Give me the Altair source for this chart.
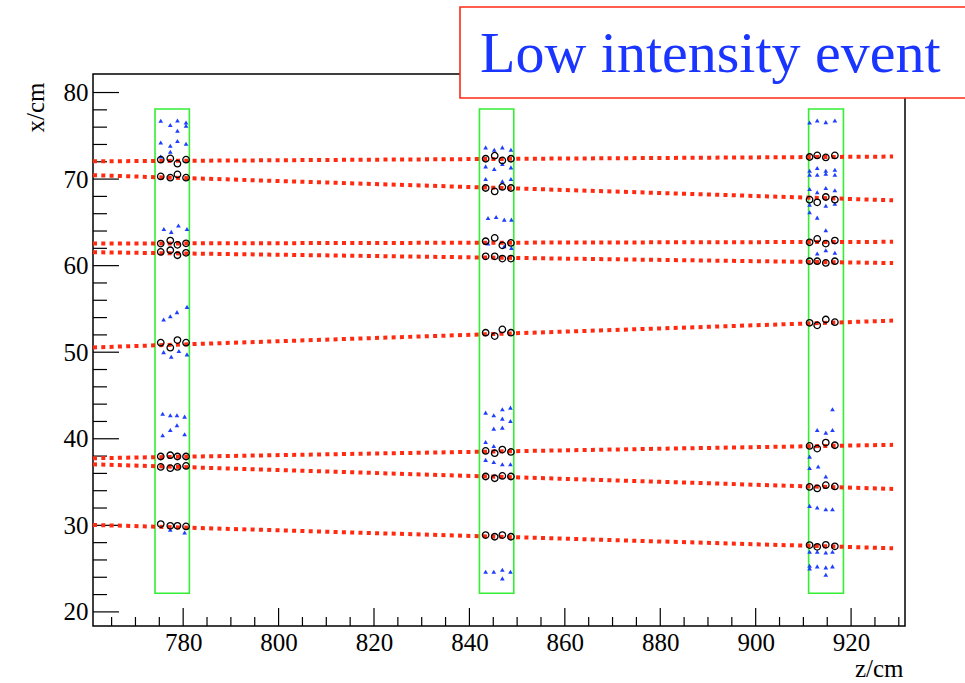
import altair as alt
import pandas as pd

# ---------------- data ----------------
z_domain = [761.1, 931.3]
x_domain = [18.37, 82.14]

z_major = [780, 800, 820, 840, 860, 880, 900, 920]
z_minor = [765, 770, 775, 785, 790, 795, 805, 810, 815, 825, 830, 835, 845, 850,
           855, 865, 870, 875, 885, 890, 895, 905, 910, 915, 925, 930]
x_major = [20, 30, 40, 50, 60, 70, 80]
x_minor = [22, 24, 26, 28, 32, 34, 36, 38, 42, 44, 46, 48, 52, 54, 56, 58,
           62, 64, 66, 68, 72, 74, 76, 78]

# detector stations (green boxes)
box_z0 = [774.1, 842.1, 911.1]
box_z1 = [781.3, 849.3, 918.4]
box_x0 = [22.15, 22.15, 22.15]
box_x1 = [78.1, 78.1, 78.1]

# reconstructed tracks (red dotted lines)
track_z0 = 761.1
track_z1 = 928.8
track_x0 = [72.05, 70.45, 62.55, 61.55, 50.55, 37.75, 37.05, 30.05]
track_x1 = [72.60, 67.55, 62.75, 60.30, 53.65, 39.30, 34.20, 27.35]

# hit layers (z of the four planes in each station)
layers_1 = [775.3, 777.3, 778.8, 780.6]
layers_2 = [843.4, 845.3, 846.9, 848.7]
layers_3 = [911.3, 912.9, 914.7, 916.6]

# associated hits (open circles), one row per track, one column per plane
hits_1 = [[72.24, 72.39, 71.78, 72.24], [70.31, 70.16, 70.54, 70.16],
          [62.55, 62.90, 62.40, 62.58], [61.59, 61.78, 61.20, 61.48],
          [51.10, 50.52, 51.40, 51.10], [37.95, 38.10, 37.95, 37.95],
          [36.75, 36.60, 36.75, 36.86], [30.14, 29.94, 29.94, 29.87]]
hits_2 = [[72.35, 72.70, 72.16, 72.35], [68.97, 68.58, 69.09, 68.97],
          [62.82, 63.20, 62.35, 62.63], [61.08, 61.08, 60.82, 60.82],
          [52.25, 51.86, 52.63, 52.25], [38.60, 38.33, 38.75, 38.48],
          [35.64, 35.44, 35.71, 35.64], [28.87, 28.68, 28.87, 28.68]]
hits_3 = [[72.55, 72.73, 72.50, 72.73], [67.62, 67.31, 67.93, 67.62],
          [62.70, 63.09, 62.55, 62.90], [60.51, 60.51, 60.32, 60.51],
          [53.40, 53.10, 53.78, 53.47], [39.17, 38.87, 39.56, 39.25],
          [34.44, 34.26, 34.64, 34.49], [27.72, 27.52, 27.75, 27.57]]

# unassociated hits (blue triangles)
noise_z = [775.3, 777.3, 778.8, 778.8, 780.6, 780.6,
           775.3, 777.3, 778.8, 780.6, 777.3, 775.3,
           775.95, 777.5, 779.0, 780.8,
           775.9, 777.3, 778.7, 780.8,
           775.9, 777.5, 779.1, 780.8,
           775.7, 777.3, 778.7, 780.3,
           775.7, 777.3, 778.7, 780.3,
           777.3, 780.3,
           843.4, 845.2, 846.9, 848.7,
           843.4, 845.2, 846.9, 848.7,
           843.4, 846.9, 848.7,
           843.9, 845.6, 847.3, 848.8,
           843.9, 847.3, 848.8,
           843.4, 845.1, 846.9, 848.6, 846.9, 848.6, 845.1, 846.9,
           843.4, 845.1,
           843.4, 845.1, 846.9, 848.6,
           843.4, 845.1, 846.9, 848.6, 846.9,
           911.3, 912.9, 914.7, 916.6,
           911.3, 912.9, 914.7, 916.6,
           911.3, 912.9, 914.7, 916.6,
           911.3, 912.9, 914.7, 916.6,
           914.7, 916.6, 911.3, 911.3, 912.9,
           914.7, 914.7, 912.9, 916.6,
           916.1, 912.9, 914.7, 916.1,
           911.3, 911.3, 913.1, 914.7,
           911.3, 912.9, 914.7, 916.1,
           911.3, 912.9, 914.7, 916.1,
           911.3, 911.3, 912.9, 914.7, 916.1, 914.7]
noise_x = [76.74, 76.24, 76.77, 75.58, 76.54, 76.16,
           74.23, 73.85, 74.39, 74.08, 73.16, 72.62,
           64.24, 63.90, 64.63, 64.24,
           53.78, 54.16, 54.63, 55.24,
           50.01, 49.48, 50.13, 49.75,
           42.90, 42.71, 42.71, 42.56,
           40.40, 41.02, 41.56, 40.52,
           29.48, 29.18,
           73.66, 73.39, 73.66, 73.39,
           71.47, 71.16, 71.74, 71.35,
           70.00, 69.74, 70.00,
           65.51, 65.63, 65.32, 65.32,
           62.55, 62.24, 62.05,
           43.02, 42.71, 43.40, 43.60, 42.33, 42.05, 41.17, 41.29,
           39.63, 39.17,
           37.56, 37.32, 37.06, 37.06,
           24.64, 24.64, 24.87, 24.64, 23.87,
           76.54, 76.77, 76.58, 76.77,
           70.97, 71.28, 70.97, 71.08,
           70.51, 70.51, 70.62, 70.51,
           68.86, 68.47, 68.97, 68.70,
           66.93, 67.16, 67.05, 66.16, 65.55,
           64.09, 61.78, 61.40, 61.48,
           43.40, 41.02, 40.71, 41.02,
           37.94, 36.63, 36.79, 35.64,
           32.25, 32.06, 31.86, 31.86,
           26.94, 26.94, 26.87, 26.94,
           25.33, 25.03, 25.26, 25.14, 25.26, 24.29]

label_text = "Low intensity event"
z_title = "z/cm"
x_title = "x/cm"

# ---------------- tables built from the lists ----------------
boxes = pd.DataFrame({"z": box_z0, "z1": box_z1, "x": box_x0, "x1": box_x1})
tracks = pd.DataFrame({"z": [track_z0] * len(track_x0), "z1": [track_z1] * len(track_x0),
                       "x": track_x0, "x1": track_x1})
hit_rows = []
for layers, hits in [(layers_1, hits_1), (layers_2, hits_2), (layers_3, hits_3)]:
    for row in hits:
        for zz, xx in zip(layers, row):
            hit_rows.append({"z": zz, "x": xx})
hits_df = pd.DataFrame(hit_rows)
noise_df = pd.DataFrame({"z": noise_z, "x": noise_x})
zmaj_df = pd.DataFrame({"z": z_major})
zmin_df = pd.DataFrame({"z": z_minor})
xmaj_df = pd.DataFrame({"x": x_major})
xmin_df = pd.DataFrame({"x": x_minor})
label_df = pd.DataFrame({"t": [label_text]})

W, H = 812, 552
FONT = "Liberation Serif"

zs = alt.Scale(domain=z_domain, nice=False, zero=False)
xs = alt.Scale(domain=x_domain, nice=False, zero=False)

axis_z = alt.Axis(values=z_major, format="d", grid=False, ticks=False, domain=False,
                  labelFont=FONT, labelFontSize=25, labelColor="black",
                  labelPadding=4, labelBaseline="top", labelFlush=False,
                  title=z_title, titleFont=FONT, titleFontSize=25, titleFontWeight="normal",
                  titleColor="black", titleX=810, titleY=50, titleAlign="right",
                  titleBaseline="alphabetic")
axis_x = alt.Axis(values=x_major, format="d", grid=False, ticks=False, domain=False,
                  labelFont=FONT, labelFontSize=25, labelColor="black",
                  labelPadding=5, labelBaseline="middle", labelFlush=False,
                  title=x_title, titleFont=FONT, titleFontSize=25, titleFontWeight="normal",
                  titleColor="black", titleAngle=270, titleX=-58, titleY=8,
                  titleAlign="right", titleBaseline="middle")

X = lambda f: alt.X(f, type="quantitative", scale=zs, axis=axis_z)
Y = lambda f: alt.Y(f, type="quantitative", scale=xs, axis=axis_x)

box_layer = alt.Chart(boxes).mark_rect(fillOpacity=0, stroke="#33ee33", strokeWidth=1.6).encode(
    x=X("z"), x2="z1", y=Y("x"), y2="x1")

track_layer = alt.Chart(tracks).mark_rule(color="#ff2a10", strokeWidth=4,
                                          strokeDash=[4, 4.3], strokeCap="butt").encode(
    x=X("z"), x2="z1", y=Y("x"), y2="x1")

noise_layer = alt.Chart(noise_df).mark_point(shape="triangle-up", filled=True,
                                             color="#1f3fff", size=22, opacity=1).encode(
    x=X("z"), y=Y("x"))

hit_layer = alt.Chart(hits_df).mark_point(shape="circle", filled=False, color="black",
                                          strokeWidth=1.3, size=42, opacity=1).encode(
    x=X("z"), y=Y("x"))

zmaj_layer = alt.Chart(zmaj_df).mark_rule(color="black", strokeWidth=1.2).encode(
    x=X("z"), y=alt.value(H), y2=alt.value(H - 18))
zmin_layer = alt.Chart(zmin_df).mark_rule(color="black", strokeWidth=1.2).encode(
    x=X("z"), y=alt.value(H), y2=alt.value(H - 9))
xmaj_layer = alt.Chart(xmaj_df).mark_rule(color="black", strokeWidth=1.2).encode(
    y=Y("x"), x=alt.value(0), x2=alt.value(26))
xmin_layer = alt.Chart(xmin_df).mark_rule(color="black", strokeWidth=1.2).encode(
    y=Y("x"), x=alt.value(0), x2=alt.value(14))

label_box = alt.Chart(label_df).mark_rect(fill="white", stroke="#ff2a14", strokeWidth=1.6).encode(
    x=alt.value(367), x2=alt.value(885), y=alt.value(-67), y2=alt.value(24))
label_txt = alt.Chart(label_df).mark_text(font=FONT, fontSize=58, color="#1a35ff",
                                          align="left", baseline="alphabetic").encode(
    x=alt.value(387), y=alt.value(-2), text="t:N")

chart = alt.layer(
    zmaj_layer, zmin_layer, xmaj_layer, xmin_layer,
    box_layer, track_layer, noise_layer, hit_layer, label_box, label_txt
).properties(
    width=W, height=H,
    padding={"left": 93, "top": 74, "right": 60, "bottom": 58},
    autosize=alt.AutoSizeParams(type="none"),
    background="white",
).configure_view(
    stroke="black", strokeWidth=1.5
).configure_axis(
    labelFont=FONT, labelFontSize=25, titleFont=FONT, titleFontSize=25,
    labelColor="black", titleColor="black", titleFontWeight="normal"
).configure_text(font=FONT)

chart.save("out.html", embed_options={"renderer": "svg", "actions": False})
